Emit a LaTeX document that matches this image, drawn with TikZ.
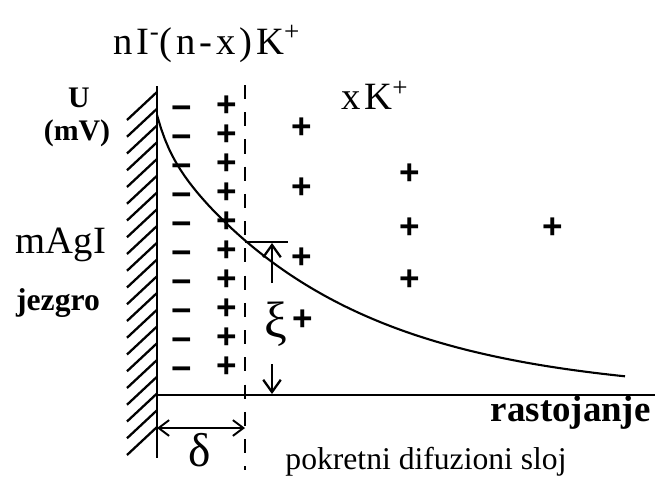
\documentclass[tikz,border=0pt]{standalone}
\usepackage{fontspec}
\setmainfont{Liberation Serif}
\newfontfamily\signfont{Liberation Sans}
\newfontfamily\widefont[LetterSpace=10]{Liberation Serif}
\usetikzlibrary{arrows.meta}

\begin{document}
\begin{tikzpicture}[x=0.02cm, y=-0.02cm,
  sign/.style={font=\signfont\bfseries\fontsize{20}{20}\selectfont, inner sep=0pt, text height=0.7em, text depth=0pt},
  txt/.style={inner sep=0pt, font=\fontsize{#1}{#1}\selectfont},
  btxt/.style={inner sep=0pt, font=\bfseries\fontsize{#1}{#1}\selectfont},
  wtxt/.style={inner sep=0pt, font=\widefont\fontsize{#1}{#1}\selectfont},
  barb/.style={{Straight Barb[length=6pt,width=9pt]}-{Straight Barb[length=6pt,width=9pt]}},
  heavy/.style={line width=1.4pt}]
\useasboundingbox (0,0) rectangle (655,487);

% wall of the core and the distance axis
\coordinate (wtop)  at (157, 86);
\coordinate (wbot)  at (157,458);
\coordinate (org)   at (157,395);
\coordinate (axend) at (655,395);
\draw[heavy] (wtop) -- (wbot);
\draw[heavy] (org) -- (axend);
\foreach \y in {92,108.75,...,428}
  \draw[line width=1.3pt] (157,\y) -- ++(-30,28);

% boundary of the fixed layer
\coordinate (dtop) at (245, 85);
\coordinate (dbot) at (245,470);
\draw[line width=1.1pt, dash pattern=on 8pt off 7.5pt] (dtop) -- (dbot);

% charges
\foreach \y in {110,139,...,371}{
  \node[sign] (minus\y) at (182,\y+3) {−};
  \node[sign] (plus\y)  at (227,\y) {+};
}
\node[sign] (k1) at (302,132) {+};
\node[sign] (k2) at (302,192) {+};
\node[sign] (k3) at (302,262) {+};
\node[sign] (k4) at (303,324) {+};
\node[sign] (k5) at (410,178) {+};
\node[sign] (k6) at (410,232) {+};
\node[sign] (k7) at (410,284) {+};
\node[sign] (k8) at (553,232) {+};

% potential
\draw[line width=1.2pt] plot[domain=157:625, samples=120]
  (\x, {395-252*exp(-(\x-157)/180)-28*exp(-(\x-157)/12)});

% zeta potential
\coordinate (tl)     at (245,242);
\coordinate (tr)     at (288,242);
\coordinate (xitop)  at (272,243);
\coordinate (upfrom) at (272,283);
\coordinate (dnfrom) at (272,364);
\coordinate (dnto)   at (272,394);
\draw[line width=1.1pt] (tl) -- (tr);
\draw[line width=1.3pt, -{Straight Barb[length=7pt,width=10pt]}] (upfrom) -- (xitop);
\draw[line width=1.3pt, -{Straight Barb[length=7pt,width=10pt]}] (dnfrom) -- (dnto);
\node[txt=29] (xi) at (276,324) {ξ};

% thickness of the fixed layer
\coordinate (da) at (157,428);
\coordinate (db) at (245,428);
\draw[line width=1.1pt, barb] (da) -- (db);
\node[txt=27] (delta) at (200,450) {δ};

% texts
\node[wtxt=22] (ions) at (207,44) {nI\textsuperscript{-}(n-x)K\textsuperscript{+}};
\node[wtxt=22] (free) at (375,95) {xK\textsuperscript{+}};
\node[btxt=17] (u)  at (79,98) {U};
\node[btxt=17] (mv) at (77,133) {(mV)};
\node[txt=22] (magi) at (61,245) {mAgI};
\node[btxt=18] (core) at (58,303) {jezgro};
\node[btxt=21, anchor=east] (dist) at (651,413) {rastojanje};
\node[txt=18] (diff) at (426,462) {pokretni difuzioni sloj};
\end{tikzpicture}
\end{document}
